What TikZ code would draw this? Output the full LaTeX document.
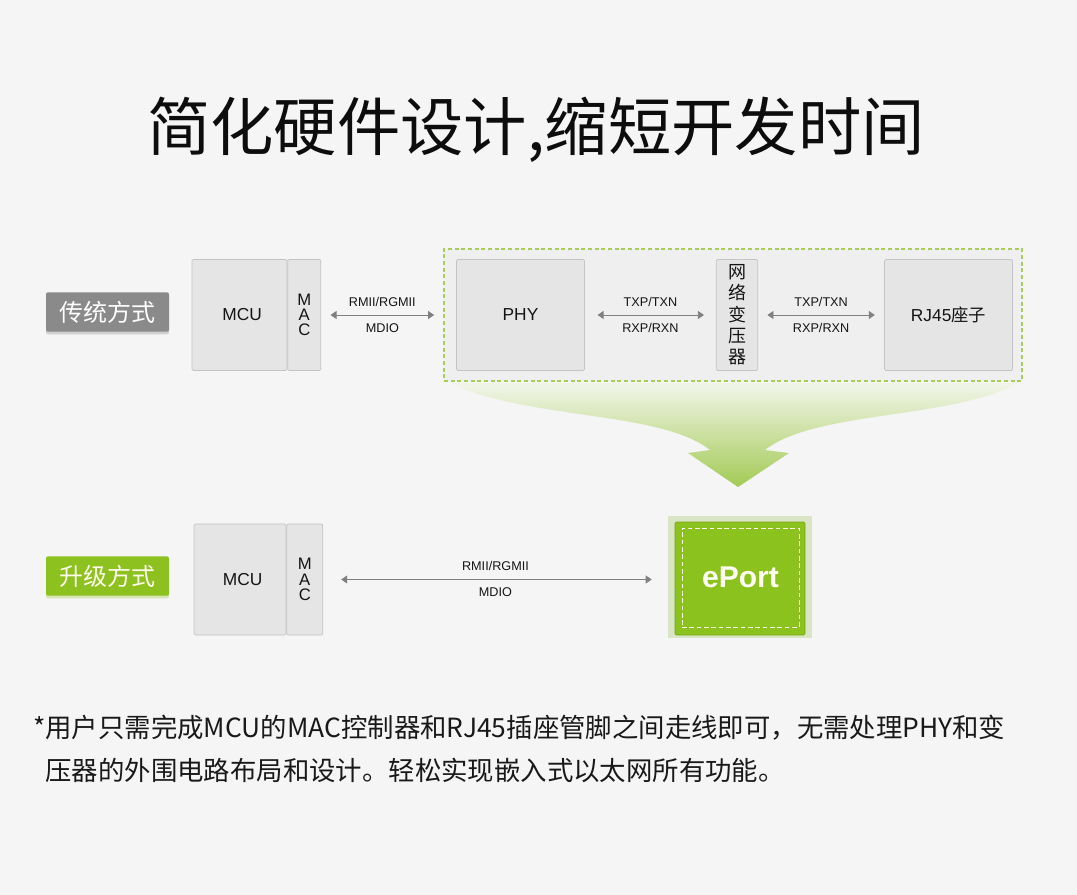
\documentclass[tikz,border=0pt]{standalone}
\usepackage{fontspec}
\setmainfont{Liberation Sans}
\newfontfamily\cjk{Noto Sans CJK SC}
\usetikzlibrary{arrows.meta,positioning,shadows}
\definecolor{pagebg}{HTML}{F5F5F5}
\definecolor{boxfill}{HTML}{E5E5E5}
\definecolor{boxline}{HTML}{C4C4C4}
\definecolor{grpfill}{HTML}{EFEFEF}
\definecolor{dashgreen}{HTML}{A9CC5F}
\definecolor{arrowgray}{HTML}{808080}
\definecolor{taggray}{HTML}{8A8A8A}
\definecolor{taggreen}{HTML}{8CC11F}
\definecolor{eportpale}{HTML}{DAE5C5}
\definecolor{eportgreen}{HTML}{8CC21E}
\definecolor{funneltop}{HTML}{F3F6EC}
\definecolor{funnelbot}{HTML}{A3CA55}

\begin{document}
\begin{tikzpicture}[
x=0.75pt,
y=-0.75pt,
every node/.style={inner sep=0pt,text=black!92},
block/.style={rectangle,rounded corners=1pt,draw=boxline,fill=boxfill,line width=0.6pt,minimum height=83.25pt,font=\fontsize{13}{13}\selectfont},
macbox/.style={block,font=\fontsize{12.5}{11.5}\selectfont,align=center},
tag/.style={rectangle,rounded corners=1.5pt,minimum width=92.25pt,minimum height=29.5pt,font=\cjk\fontsize{18}{18}\selectfont},
sig/.style={{Triangle[length=4.5pt,width=6pt]}-{Triangle[length=4.5pt,width=6pt]},draw=arrowgray,line width=0.6pt,shorten <=7pt,shorten >=7pt},
lbl/.style={font=\fontsize{9.5}{10}\selectfont}
]
\useasboundingbox[fill=pagebg] (0,0) rectangle (1077,895);

\node[font=\cjk\fontsize{47.5}{47.5}\selectfont,text=black!95] (title) at (536,130) {简化硬件设计,缩短开发时间};

\node[tag,fill=taggray,text=white,drop shadow={shadow xshift=0pt,shadow yshift=-2pt,opacity=.15,fill=black}] (oldtag) at (107.5,312) {传统方式};
\node[block,minimum width=71.25pt] (mcu) at (239.5,315) {\hspace{4pt}MCU};
\node[macbox,minimum width=24.75pt,right=0pt of mcu] (mac) {M\\A\\C};

\shade[top color=funneltop,bottom color=funnelbot] (447,381) .. controls (520,420) and (660,410) .. (710,450) -- (688,453) -- (738,487) -- (789,453) -- (765,450) .. controls (815,410) and (955,420) .. (1022,381) -- cycle;

\node[rectangle,draw=dashgreen,fill=grpfill,dash pattern=on 3pt off 2pt,line width=0.8pt,minimum width=433.5pt,minimum height=99pt] (grp) at (733,315) {};
\node[block,minimum width=96pt] (phy) at (520.5,315) {PHY};
\node[block,minimum width=31pt,align=center,font=\cjk\fontsize{13.5}{16}\selectfont] (xfmr) at (737,315) {网\\络\\变\\压\\器};
\node[block,minimum width=96pt] (rj45) at (948.5,315) {RJ45{\cjk 座子}};

\draw[sig] (mac) -- node[lbl,above=6pt]{RMII/RGMII} node[lbl,below=6pt]{MDIO} (grp);
\draw[sig,shorten <=9.5pt,shorten >=9pt] (phy) -- node[lbl,above=6pt]{TXP/TXN} node[lbl,below=6pt]{RXP/RXN} (xfmr);
\draw[sig] (xfmr) -- node[lbl,above=6pt]{TXP/TXN} node[lbl,below=6pt]{RXP/RXN} (rj45);

\node[tag,fill=taggreen,text=white!92!yellow,drop shadow={shadow xshift=0pt,shadow yshift=-2pt,opacity=.3,fill=taggreen}] (newtag) at (107.5,576) {升级方式};
\node[block,minimum width=69pt] (mcu2) at (240,579.5) {\hspace{4pt}MCU};
\node[macbox,minimum width=27pt,right=0pt of mcu2] (mac2) {M\\A\\C};

\node[rectangle,fill=eportpale,minimum width=108pt,minimum height=91.5pt] (eportbase) at (740,576.5) {};
\node[rectangle,rounded corners=1pt,fill=eportgreen,draw=eportgreen!85!black,line width=0.4pt,minimum width=97.5pt,minimum height=84.75pt] (eport) at (740,578.5) {};
\node[rectangle,draw=white!90!yellow,dash pattern=on 3.5pt off 2pt,line width=0.7pt,minimum width=87.75pt,minimum height=74.25pt,font=\bfseries\fontsize{22.5}{22.5}\selectfont,text=white!95!yellow] (eporttext) at (740.5,577.5) {ePort};

\draw[sig,shorten <=13.5pt,shorten >=12pt] (mac2) -- node[lbl,above=6pt]{RMII/RGMII} node[lbl,below=6pt]{MDIO} (mac2 -| eportbase.west);

\node[anchor=north west,align=left,font=\cjk\fontsize{19.8}{32}\selectfont,text=black!90] (note) at (33,715) {*用户只需完成MCU的MAC控制器和RJ45插座管脚之间走线即可，无需处理PHY和变\\\hphantom{*}压器的外围电路布局和设计。轻松实现嵌入式以太网所有功能。};
\end{tikzpicture}
\end{document}
